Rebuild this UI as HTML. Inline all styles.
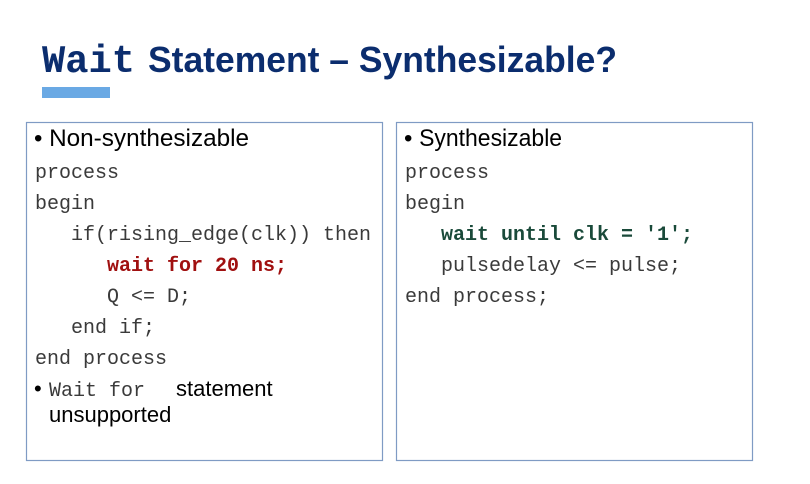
<!DOCTYPE html>
<html><head><meta charset="utf-8"><style>
html,body{margin:0;padding:0;background:#fff;width:810px;height:484px;overflow:hidden}
</style></head><body>
<svg width="810" height="484" xmlns="http://www.w3.org/2000/svg">
<rect width="810" height="484" fill="#fff"/>
<text x="42" y="72" font-family="Liberation Mono, monospace" font-weight="bold" font-size="39" fill="#0b2d6e" textLength="93" lengthAdjust="spacingAndGlyphs">Wait</text>
<text x="148" y="72" font-family="Liberation Sans, sans-serif" font-weight="bold" font-size="36" fill="#0b2d6e" textLength="469" lengthAdjust="spacingAndGlyphs">Statement – Synthesizable?</text>
<rect x="42" y="87" width="68" height="11" fill="#6aa9e4"/>
<rect x="26.5" y="122.5" width="356" height="338" fill="none" stroke="#7f9bc4" stroke-width="1.2"/>
<rect x="396.5" y="122.5" width="356" height="338" fill="none" stroke="#7f9bc4" stroke-width="1.2"/>
<g font-family="Liberation Sans, sans-serif" font-size="24" fill="#000">
<text x="34" y="146">• <tspan textLength="200" lengthAdjust="spacingAndGlyphs">Non-synthesizable</tspan></text>
<text x="404" y="146">• <tspan textLength="143" lengthAdjust="spacingAndGlyphs">Synthesizable</tspan></text>
</g>
<g font-family="Liberation Mono, monospace" font-size="20" fill="#3a3a3a">
<text x="35" y="178">process</text>
<text x="35" y="209">begin</text>
<text x="71" y="240">if(rising_edge(clk)) then</text>
<text x="107" y="271" font-weight="bold" fill="#a01010">wait for 20 ns;</text>
<text x="107" y="302">Q &lt;= D;</text>
<text x="71" y="333">end if;</text>
<text x="35" y="364">end process</text>
<text x="405" y="178">process</text>
<text x="405" y="209">begin</text>
<text x="441" y="240" font-weight="bold" fill="#1a4a3a">wait until clk = '1';</text>
<text x="441" y="271">pulsedelay &lt;= pulse;</text>
<text x="405" y="302">end process;</text>
</g>
<text x="34" y="396" font-family="Liberation Sans, sans-serif" font-size="22" fill="#000">•</text>
<text x="49" y="396" font-family="Liberation Mono, monospace" font-size="20" fill="#3a3a3a">Wait for</text>
<text x="176" y="396" font-family="Liberation Sans, sans-serif" font-size="22" fill="#000">statement</text>
<text x="49" y="422" font-family="Liberation Sans, sans-serif" font-size="22" fill="#000">unsupported</text>
</svg>
</body></html>
